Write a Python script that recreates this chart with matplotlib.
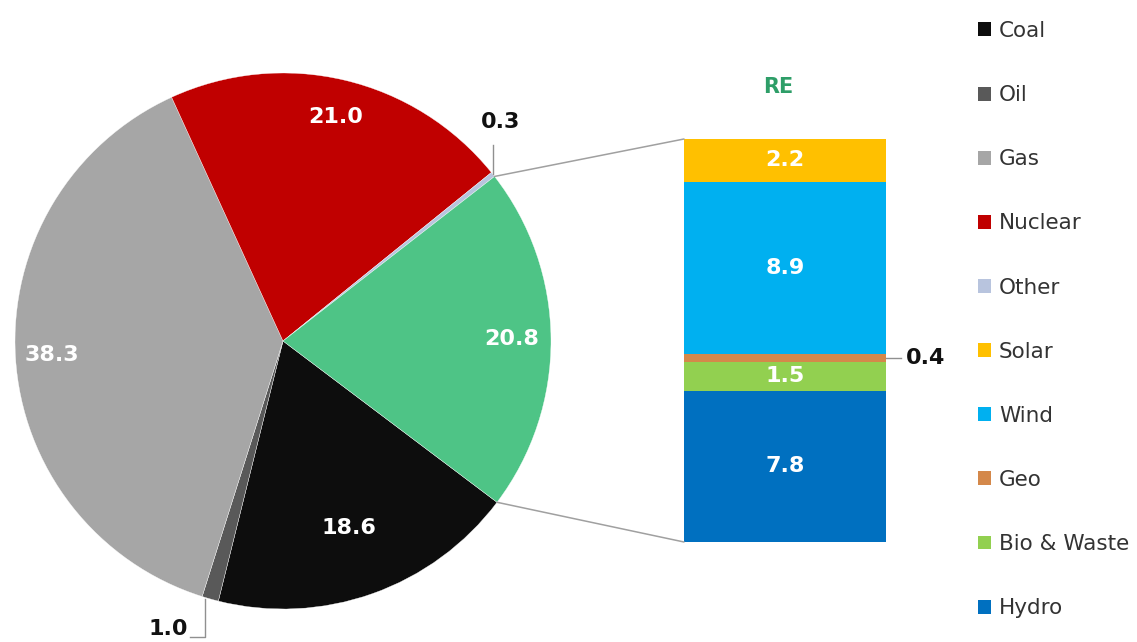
import matplotlib
matplotlib.use("Agg")
import matplotlib.pyplot as plt
from matplotlib.patches import ConnectionPatch, Patch
import numpy as np

# ---- data ----
pie_labels = ["Coal", "Oil", "Gas", "Nuclear", "Other", "RE"]
pie_values = [18.6, 1.0, 38.3, 21.0, 0.3, 20.8]
pie_colors = ["#0d0d0d", "#595959", "#a6a6a6", "#c00000", "#b8c4de", "#4ec486"]

re_labels = ["Hydro", "Bio & Waste", "Geo", "Wind", "Solar"]
re_values = [7.8, 1.5, 0.4, 8.9, 2.2]
re_colors = ["#0070c0", "#92d050", "#d4884a", "#00b0f0", "#ffc000"]

legend_order = ["Coal", "Oil", "Gas", "Nuclear", "Other", "Solar", "Wind", "Geo", "Bio & Waste", "Hydro"]

W, H = 1137, 642
fig = plt.figure(figsize=(W / 100, H / 100), dpi=100)
fig.patch.set_facecolor("white")

# ---- pie ----
cx, cy, R = 283, 341, 268
half = 300
ax_pie = fig.add_axes([(cx - half) / W, (H - cy - half) / H, 2 * half / W, 2 * half / H])
wedges, _ = ax_pie.pie(pie_values, colors=pie_colors, startangle=-37, counterclock=False,
                       radius=1, wedgeprops=dict(edgecolor="white", linewidth=0.25))
lim = half / R
ax_pie.set_xlim(-lim, lim)
ax_pie.set_ylim(-lim, lim)
ax_pie.set_aspect("equal")
ax_pie.axis("off")

lbl_font = dict(fontsize=16, fontweight="bold", family="DejaVu Sans")
inner_r = {"Coal": 0.74, "Gas": 0.865, "Nuclear": 0.86, "RE": 0.855}
for w, name, val in zip(wedges, pie_labels, pie_values):
    mid = np.deg2rad((w.theta1 + w.theta2) / 2)
    if name in inner_r:
        r = inner_r[name]
        ax_pie.text(r * np.cos(mid), r * np.sin(mid), f"{val:.1f}", color="white",
                    ha="center", va="center", **lbl_font)
    elif name == "Other":
        px, py = np.cos(mid), np.sin(mid)
        ax_pie.plot([px, px], [py, py + 0.11], color="#909090", lw=1)
        ax_pie.text(px + 0.03, py + 0.195, f"{val:.1f}", color="#111111",
                    ha="center", va="center", **lbl_font)
    elif name == "Oil":
        px, py = np.cos(mid), np.sin(mid)
        ax_pie.plot([px - 0.02, px - 0.02, -0.347], [py, -1.104, -1.104], color="#909090", lw=1)
        ax_pie.text(-0.355, -1.075, f"{val:.1f}", color="#111111",
                    ha="right", va="center", **lbl_font)

# ---- stacked bar ----
bx0, bx1, by0, by1 = 684, 886, 542, 139
ax_bar = fig.add_axes([bx0 / W, (H - by0) / H, (bx1 - bx0) / W, (by0 - by1) / H])
total = sum(re_values)
bottom = 0
for name, val, col in zip(re_labels, re_values, re_colors):
    ax_bar.bar(0, val, bottom=bottom, width=1.0, color=col, edgecolor="none")
    mid = bottom + val / 2
    if name == "Geo":
        ax_bar.plot([0.5, 0.575], [mid, mid], color="#909090", lw=1, clip_on=False)
        ax_bar.text(0.60, mid, f"{val:.1f}", color="#111111", ha="left", va="center",
                    clip_on=False, **lbl_font)
    else:
        ax_bar.text(0, mid, f"{val:.1f}", color="white", ha="center", va="center", **lbl_font)
    bottom += val
ax_bar.set_xlim(-0.5, 0.5)
ax_bar.set_ylim(0, total)
ax_bar.axis("off")
ax_bar.text(-0.035, total + 2.7, "RE", color="#2e9e68", ha="center", va="center",
            fontsize=15, fontweight="bold", family="DejaVu Sans", clip_on=False)

# ---- connectors ----
re_w = wedges[pie_labels.index("RE")]
t_top = np.deg2rad(max(re_w.theta1, re_w.theta2))
t_bot = np.deg2rad(min(re_w.theta1, re_w.theta2))
for t, yb in [(t_top, total), (t_bot, 0)]:
    con = ConnectionPatch(xyA=(np.cos(t), np.sin(t)), coordsA=ax_pie.transData,
                          xyB=(-0.5, yb), coordsB=ax_bar.transData,
                          color="#a0a0a0", lw=1.1)
    fig.add_artist(con)

# ---- legend ----
color_map = dict(zip(pie_labels, pie_colors))
color_map.update(dict(zip(re_labels, re_colors)))
handles = [Patch(facecolor=color_map[n], edgecolor="none", label=n) for n in legend_order]
leg = fig.legend(handles=handles, loc="upper left", bbox_to_anchor=(978 / W, 1 - 21 / H),
                 frameon=False, fontsize=15.5, labelspacing=2.05, handlelength=0.62,
                 handleheight=0.62, handletextpad=0.35, borderaxespad=0, borderpad=0)
for t in leg.get_texts():
    t.set_color("#333333")

fig.savefig("out.png", dpi=100, facecolor="white")
